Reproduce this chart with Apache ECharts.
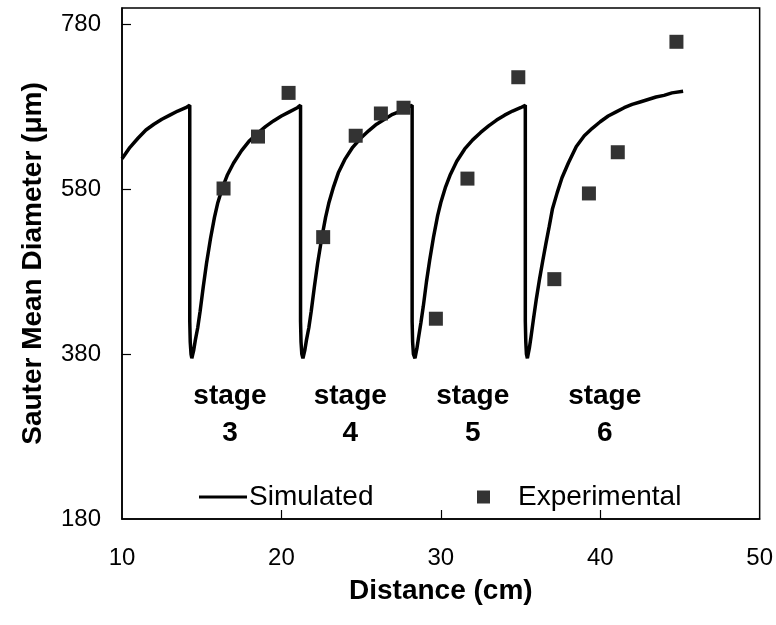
<!DOCTYPE html>
<html>
<head>
<meta charset="utf-8">
<script src="https://cdn.jsdelivr.net/npm/echarts@6/dist/echarts.min.js"></script>
<style>html,body{margin:0;padding:0;background:#fff;}#c{width:776px;height:625px;}</style>
</head>
<body>
<div id="c"></div>
<script>
// Simulated curve, one array per stage segment [distance cm, diameter um]
var simStage2 = [[10.0,617],[10.5,631],[11.0,642],[11.5,652],[12.0,659],[12.5,665],[13.0,670],[13.5,675],[14.0,679],[14.25,682]];
var simStage3 = [[14.25,682],[14.25,420],[14.28,395],[14.33,380],[14.38,375],[14.5,385],[14.6,397],[14.75,412],[14.9,432],[15.1,462],[15.3,490],[15.55,520],[15.8,546],[16.0,563],[16.3,582],[16.6,597],[17.0,612],[17.5,627],[18.0,639],[18.5,648],[19.0,656],[19.5,663],[20.0,669],[20.5,674],[21.0,679],[21.2,682]];
var simStage4 = [[21.2,682],[21.2,420],[21.23,395],[21.28,380],[21.35,375],[21.47,385],[21.57,397],[21.72,412],[21.87,432],[22.07,462],[22.27,490],[22.52,520],[22.77,546],[22.97,563],[23.27,583],[23.57,600],[23.97,616],[24.47,631],[24.97,642],[25.47,651],[25.97,659],[26.47,665],[26.97,671],[27.47,675],[27.97,680],[28.2,682]];
var simStage5 = [[28.2,682],[28.2,420],[28.23,395],[28.28,380],[28.38,375],[28.5,387],[28.6,400],[28.75,418],[28.9,438],[29.1,468],[29.3,494],[29.55,523],[29.8,548],[30.0,564],[30.3,583],[30.6,598],[31.0,614],[31.5,629],[32.0,640],[32.5,649],[33.0,657],[33.5,664],[34.0,670],[34.5,675],[35.0,679],[35.3,682]];
var simStage6 = [[35.3,682],[35.3,420],[35.33,395],[35.37,380],[35.43,375],[35.55,387],[35.65,400],[35.8,421],[36.0,448],[36.2,472],[36.4,494],[36.6,515],[36.8,535],[37.0,556],[37.3,576],[37.6,594],[38.0,612],[38.5,632],[39.0,645],[39.5,654],[40.0,662],[40.5,669],[41.0,674],[41.5,679],[42.0,683],[42.5,686],[43.0,689],[43.5,692],[44.0,694],[44.5,697],[45.2,699]];

// Experimental points [distance cm, diameter um]
var expStage3 = [[16.37,581],[18.53,644],[20.45,697]];
var expStage4 = [[22.62,522],[24.66,645],[26.24,672],[27.66,679]];
var expStage5 = [[29.69,423],[31.67,593],[34.86,716]];
var expStage6 = [[37.12,471],[39.29,575],[41.1,625],[44.78,759]];

// Stage annotations [distance, diameter, text]
var stageLabels = [[16.77,306,'stage\n3'],[24.32,306,'stage\n4'],[32.0,306,'stage\n5'],[40.28,306,'stage\n6']];

var xTicks = [10,20,30,40,50];
var yTicks = [180,380,580,780];

var simData = [].concat(simStage2, simStage3, simStage4, simStage5, simStage6);
var expData = [].concat(expStage3, expStage4, expStage5, expStage6);

var chart = echarts.init(document.getElementById('c'), null, {renderer:'canvas'});
var FONT = 'Liberation Sans, Arial, sans-serif';
chart.setOption({
  backgroundColor:'#fff',
  animation:false,
  grid:{left:122, right:15, top:8, bottom:106, show:true, borderColor:'#000', borderWidth:1.5, backgroundColor:'transparent'},
  legend:[
    {data:[{name:'Simulated', icon:'rect'}], left:194, top:478, itemWidth:48, itemHeight:3, itemGap:0,
     textStyle:{fontFamily:FONT, fontSize:28, color:'#000', padding:[0,0,0,-3]}},
    {data:[{name:'Experimental', icon:'rect'}], left:472, top:478, itemWidth:13, itemHeight:13,
     textStyle:{fontFamily:FONT, fontSize:28, color:'#000', padding:[0,0,0,23]}}
  ],
  xAxis:{type:'value', min:10, max:50, interval:10,
    name:'Distance (cm)', nameLocation:'middle', nameGap:58,
    nameTextStyle:{fontFamily:FONT, fontSize:28, fontWeight:'bold', color:'#000'},
    axisLine:{show:true, lineStyle:{color:'#000', width:1.5}},
    axisTick:{show:true, inside:true, length:9, lineStyle:{color:'#000', width:1.2}, customValues:[20,30,40]},
    axisLabel:{fontFamily:FONT, fontSize:24, color:'#000', margin:27, customValues:xTicks},
    splitLine:{show:false}},
  yAxis:{type:'value', min:180, max:800, interval:200,
    name:'Sauter Mean Diameter (\u03bcm)', nameLocation:'middle', nameGap:75, nameRotate:90,
    nameTextStyle:{fontFamily:FONT, fontSize:28, fontWeight:'bold', color:'#000'},
    axisLine:{show:true, lineStyle:{color:'#000', width:1.5}},
    axisTick:{show:true, inside:true, length:9, lineStyle:{color:'#000', width:1.2}, customValues:[380,580,780]},
    axisLabel:{fontFamily:FONT, fontSize:24, color:'#000', margin:21, customValues:yTicks},
    splitLine:{show:false}},
  series:[
    {name:'Simulated', type:'line', data:simData, showSymbol:false, symbol:'none', smooth:false,
     lineStyle:{color:'#000', width:3.5}, itemStyle:{color:'#000'}, z:3},
    {name:'Experimental', type:'scatter', data:expData, symbol:'rect', symbolSize:14,
     itemStyle:{color:'#333', opacity:1}, z:4},
    {name:'labels', type:'scatter', data:stageLabels, symbolSize:1, itemStyle:{color:'#fff', opacity:1},
     silent:true, z:5,
     label:{show:true, position:'inside', formatter:function(p){return p.data[2];}, opacity:1,
       fontFamily:FONT, fontSize:28, fontWeight:'bold', color:'#000', lineHeight:37, align:'center', verticalAlign:'middle'}}
  ]
});
</script>
</body>
</html>
